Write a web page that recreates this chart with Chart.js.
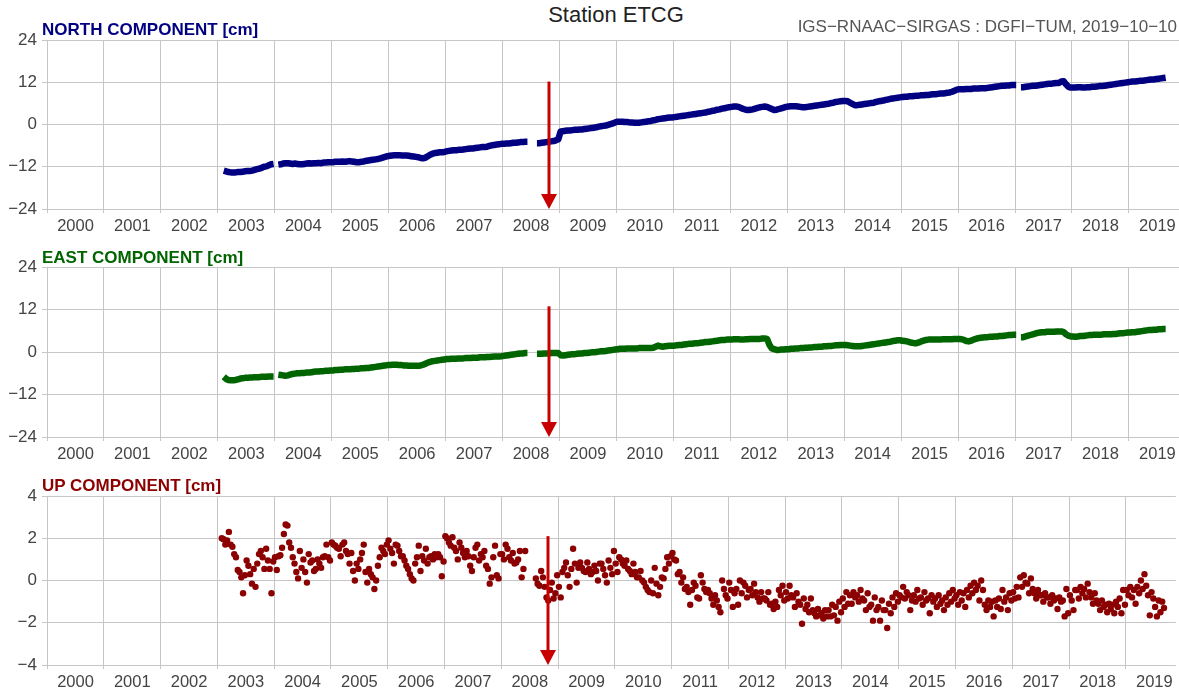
<!DOCTYPE html>
<html>
<head>
<meta charset="utf-8">
<title>Station ETCG</title>
<script src="https://cdn.jsdelivr.net/npm/chart.js@4.4.1/dist/chart.umd.min.js"></script>
<style>
  body { margin: 0; background: #fff; }
  #wrap { position: relative; width: 1179px; height: 695px; overflow: hidden;
          font-family: "Liberation Sans", Arial, Helvetica, sans-serif; }
  #wrap canvas { position: absolute; left: 0; }
  .txt { position: absolute; white-space: nowrap; z-index: 2; }
  .comp { left: 42px; font-size: 17px; font-weight: bold; line-height: 20px; }
</style>
</head>
<body>
<div id="wrap">
  <div class="txt" style="left:416px;width:400px;text-align:center;top:2px;line-height:26px;font-size:22px;color:#222;">Station ETCG</div>
  <div class="txt" style="right:2px;top:17px;line-height:20px;font-size:17px;color:#555;">IGS−RNAAC−SIRGAS : DGFI−TUM, 2019−10−10</div>
  <div class="txt comp" style="top:20px;color:#000080;">NORTH COMPONENT [cm]</div>
  <div class="txt comp" style="top:248px;color:#006400;">EAST COMPONENT [cm]</div>
  <div class="txt comp" style="top:476px;color:#8b0000;">UP COMPONENT [cm]</div>
  <canvas id="north" width="1179" height="209" style="top:30px"></canvas>
  <canvas id="east" width="1179" height="210" style="top:257px"></canvas>
  <canvas id="up" width="1179" height="209" style="top:486px"></canvas>
</div>
<script>
// years with weekly solutions, one row per year in the arrays below
var dataYears = [2003, 2004, 2005, 2006, 2007, 2008, 2009, 2010, 2011,
                 2012, 2013, 2014, 2015, 2016, 2017, 2018, 2019];
var yearTicks = [2000, 2001, 2002, 2003, 2004, 2005, 2006, 2007, 2008, 2009,
                 2010, 2011, 2012, 2013, 2014, 2015, 2016, 2017, 2018, 2019];

// north [cm], 24 values per year (null = no solution)
var northCm = [
  [null, null, -13.1, -13.3, -13.5, -13.6, -13.6, -13.6, -13.5, -13.5, -13.4, -13.3, -13.2, -13.2, -13.1, -12.9, -12.7, -12.5, -12.3, -12.0, -11.9, -11.6, -11.3, -11.2],
  [null, -11.4, -11.3, -11.1, -11.0, -11.0, -11.1, -11.2, -11.1, -11.2, -11.3, -11.3, -11.2, -11.1, -11.0, -11.1, -11.0, -11.0, -10.9, -11.0, -10.8, -10.8, -10.7, -10.7],
  [-10.7, -10.6, -10.6, -10.6, -10.5, -10.6, -10.5, -10.4, -10.5, -10.6, -10.7, -10.7, -10.6, -10.5, -10.3, -10.2, -10.1, -10.0, -9.9, -9.8, -9.6, -9.4, -9.2, -9.0],
  [-8.9, -8.8, -8.7, -8.7, -8.7, -8.8, -8.8, -8.8, -8.9, -9.0, -9.1, -9.2, -9.3, -9.5, -9.6, -9.4, -9.0, -8.6, -8.3, -8.1, -8.0, -7.9, -7.9, -7.8],
  [-7.6, -7.5, -7.4, -7.3, -7.3, -7.2, -7.2, -7.1, -7.0, -6.9, -6.8, -6.8, -6.7, -6.6, -6.5, -6.4, -6.4, -6.3, -6.1, -5.9, -5.8, -5.7, -5.6, -5.5],
  [-5.5, -5.4, -5.4, -5.3, -5.2, -5.2, -5.1, -5.0, -5.0, -4.9, -4.9, null, null, null, -5.3, -5.3, -5.2, -5.1, -5.0, -4.9, -4.8, -4.7, -4.5, -4.2],
  [-2.0, -1.9, -1.8, -1.7, -1.7, -1.6, -1.5, -1.5, -1.4, -1.4, -1.3, -1.2, -1.1, -1.0, -0.9, -0.8, -0.6, -0.5, -0.4, -0.3, -0.1, 0.1, 0.3, 0.6],
  [0.8, 0.8, 0.8, 0.7, 0.7, 0.6, 0.6, 0.5, 0.5, 0.5, 0.6, 0.7, 0.8, 0.9, 1.0, 1.2, 1.3, 1.5, 1.6, 1.7, 1.8, 1.9, 2.0, 2.0],
  [2.1, 2.2, 2.3, 2.4, 2.5, 2.6, 2.7, 2.8, 2.9, 3.0, 3.1, 3.2, 3.3, 3.4, 3.6, 3.7, 3.9, 4.0, 4.2, 4.3, 4.5, 4.6, 4.8, 4.9],
  [5.0, 5.1, 5.1, 5.0, 4.7, 4.4, 4.2, 4.1, 4.2, 4.3, 4.5, 4.7, 4.9, 5.0, 5.1, 5.0, 4.7, 4.4, 4.1, 4.2, 4.4, 4.6, 4.8, 5.0],
  [5.1, 5.2, 5.2, 5.2, 5.1, 5.0, 4.9, 4.9, 5.0, 5.1, 5.2, 5.3, 5.4, 5.5, 5.6, 5.7, 5.8, 5.9, 6.1, 6.2, 6.4, 6.5, 6.6, 6.7],
  [6.7, 6.6, 6.2, 5.8, 5.5, 5.5, 5.6, 5.7, 5.8, 5.9, 6.0, 6.1, 6.2, 6.4, 6.6, 6.7, 6.8, 7.0, 7.1, 7.3, 7.4, 7.5, 7.6, 7.7],
  [7.8, 7.9, 7.9, 8.0, 8.0, 8.1, 8.2, 8.2, 8.3, 8.3, 8.4, 8.4, 8.5, 8.6, 8.6, 8.7, 8.8, 8.8, 8.9, 9.0, 9.1, 9.3, 9.6, 9.9],
  [10.0, 10.0, 10.0, 10.1, 10.1, 10.1, 10.2, 10.2, 10.2, 10.3, 10.3, 10.3, 10.4, 10.5, 10.6, 10.7, 10.8, 10.9, 11.0, 11.0, 11.1, 11.1, 11.2, 11.2],
  [11.2, null, 10.6, 10.6, 10.7, 10.8, 10.9, 11.0, 11.0, 11.1, 11.2, 11.3, 11.4, 11.5, 11.6, 11.6, 11.7, 11.8, 11.8, 12.2, 12.3, 11.4, 10.7, 10.5],
  [10.5, 10.5, 10.6, 10.6, 10.5, 10.5, 10.6, 10.6, 10.7, 10.7, 10.8, 10.9, 10.9, 11.0, 11.1, 11.2, 11.3, 11.4, 11.5, 11.6, 11.7, 11.8, 11.9, 12.0],
  [12.1, 12.2, 12.2, 12.3, 12.4, 12.4, 12.5, 12.6, 12.7, 12.8, 12.8, 12.9, 13.0, 13.1, 13.2, 13.3, null, null, null, null, null, null, null, null]
];

// east [cm], 24 values per year
var eastCm = [
  [null, null, -7.0, -7.6, -7.9, -8.0, -8.0, -7.9, -7.7, -7.5, -7.4, -7.3, -7.3, -7.2, -7.2, -7.1, -7.1, -7.1, -7.0, -7.0, -7.0, -6.9, -6.9, -6.9],
  [null, -6.4, -6.5, -6.6, -6.7, -6.6, -6.4, -6.2, -6.1, -6.0, -6.0, -5.9, -5.9, -5.8, -5.8, -5.7, -5.6, -5.5, -5.5, -5.4, -5.4, -5.3, -5.3, -5.2],
  [-5.2, -5.1, -5.1, -5.0, -5.0, -4.9, -4.9, -4.9, -4.8, -4.8, -4.7, -4.7, -4.6, -4.6, -4.5, -4.5, -4.4, -4.3, -4.2, -4.1, -4.0, -3.9, -3.8, -3.7],
  [-3.7, -3.6, -3.6, -3.6, -3.7, -3.7, -3.8, -3.8, -3.9, -3.9, -3.9, -3.9, -3.9, -3.8, -3.6, -3.3, -3.0, -2.8, -2.6, -2.5, -2.4, -2.3, -2.2, -2.1],
  [-2.0, -2.0, -1.9, -1.9, -1.9, -1.8, -1.8, -1.8, -1.7, -1.7, -1.7, -1.6, -1.6, -1.6, -1.5, -1.5, -1.5, -1.4, -1.4, -1.35, -1.3, -1.3, -1.25, -1.2],
  [-1.1, -1.0, -0.9, -0.8, -0.7, -0.6, -0.5, -0.4, -0.4, -0.3, -0.3, null, null, null, -0.5, -0.5, -0.5, -0.4, -0.4, -0.4, -0.3, -0.3, -0.3, -0.3],
  [-0.9, -1.0, -0.9, -0.8, -0.7, -0.6, -0.6, -0.5, -0.4, -0.4, -0.3, -0.3, -0.2, -0.1, -0.1, 0.0, 0.1, 0.2, 0.2, 0.3, 0.4, 0.5, 0.6, 0.7],
  [0.8, 0.9, 0.9, 0.9, 1.0, 1.0, 1.0, 1.0, 1.0, 1.1, 1.1, 1.1, 1.1, 1.1, 1.1, 1.2, 1.5, 1.8, 1.6, 1.5, 1.6, 1.7, 1.8, 1.8],
  [1.8, 1.9, 2.0, 2.0, 2.1, 2.2, 2.3, 2.3, 2.4, 2.5, 2.5, 2.6, 2.7, 2.8, 2.8, 2.9, 3.0, 3.1, 3.2, 3.3, 3.4, 3.4, 3.5, 3.5],
  [3.5, 3.6, 3.6, 3.6, 3.5, 3.5, 3.6, 3.6, 3.7, 3.7, 3.7, 3.7, 3.7, 3.8, 3.8, 3.7, 2.0, 1.0, 0.8, 0.6, 0.6, 0.7, 0.7, 0.8],
  [0.8, 0.9, 0.9, 1.0, 1.0, 1.1, 1.1, 1.2, 1.2, 1.3, 1.3, 1.4, 1.4, 1.5, 1.5, 1.6, 1.6, 1.7, 1.7, 1.8, 1.9, 1.9, 2.0, 2.0],
  [2.0, 1.9, 1.8, 1.7, 1.6, 1.6, 1.6, 1.7, 1.8, 1.9, 2.0, 2.1, 2.2, 2.3, 2.4, 2.5, 2.6, 2.7, 2.8, 2.9, 3.1, 3.2, 3.3, 3.3],
  [3.2, 3.1, 3.0, 2.8, 2.6, 2.5, 2.5, 2.7, 3.0, 3.2, 3.4, 3.5, 3.5, 3.5, 3.5, 3.5, 3.5, 3.6, 3.6, 3.6, 3.6, 3.6, 3.7, 3.7],
  [3.7, 3.6, 3.4, 3.1, 3.0, 3.2, 3.5, 3.7, 3.9, 4.0, 4.1, 4.2, 4.2, 4.3, 4.3, 4.4, 4.4, 4.5, 4.5, 4.6, 4.7, 4.8, 4.8, 4.9],
  [4.9, null, 4.2, 4.2, 4.4, 4.6, 4.8, 5.0, 5.2, 5.4, 5.5, 5.6, 5.6, 5.7, 5.7, 5.7, 5.7, 5.8, 5.8, 5.8, 5.6, 5.0, 4.6, 4.4],
  [4.4, 4.3, 4.4, 4.5, 4.5, 4.6, 4.7, 4.8, 4.8, 4.9, 4.9, 4.9, 4.9, 5.0, 5.0, 5.0, 5.0, 5.1, 5.1, 5.2, 5.3, 5.3, 5.4, 5.5],
  [5.5, 5.6, 5.6, 5.7, 5.8, 5.9, 6.0, 6.1, 6.2, 6.2, 6.3, 6.3, 6.4, 6.4, 6.5, 6.5, null, null, null, null, null, null, null, null]
];

// up [cm], 32 values per year
var upCm = [
  [null, null, 2.0, 1.95, 1.7, 1.9, 2.3, 1.7, 1.6, 1.25, 1.1, 0.5, 0.4, 0.15, -0.6, 0.25, 0.95, 0.7, 0.3, -0.15, 0.55, -0.3, 0.8, 1.25, 1.4, 1.1, 0.55, 1.5, 0.95, 0.55, -0.6, 0.9],
  [1.1, 0.5, 1.15, 1.2, 1.55, 2.2, 2.65, 2.6, 1.8, 1.55, 1.1, 0.8, 0.4, 0.1, 1.4, 0.6, 1.0, 0.4, -0.1, 1.25, 0.85, 0.95, 0.45, 0.55, 1.0, 0.8, 0.6, 1.1, 1.15, 1.7, 1.1, 0.95],
  [1.8, 1.7, 1.65, 1.55, 1.5, 1.15, 1.7, 1.8, 1.4, 1.25, 0.8, 1.3, 0.45, 0.0, 0.8, 0.55, 1.0, 1.3, 1.7, 0.4, -0.1, 0.55, 0.3, 0.15, -0.4, 0.0, 0.7, 1.1, 1.55, 1.4, 1.25, 1.7],
  [1.9, 1.5, 1.3, 0.8, 1.7, 1.65, 1.4, 1.15, 1.15, 0.95, 0.7, 0.55, 0.3, 0.1, 0.0, 0.8, 1.1, 1.65, 0.45, 1.15, 0.95, 1.5, 0.8, 1.1, 1.15, 1.0, 1.25, 1.1, 1.25, 1.1, 0.2, 0.9],
  [2.1, 2.0, 1.8, 1.65, 2.05, 1.55, 1.4, 1.0, 1.8, 1.55, 1.3, 1.1, 1.4, 1.15, 0.7, 0.45, 1.1, 1.55, 1.7, 0.95, 1.25, 1.1, 1.4, 0.7, 0.55, -0.15, 0.15, 1.1, 1.65, 0.25, 0.1, 1.25],
  [1.25, 1.0, 1.7, 1.5, 1.1, 0.95, 1.3, 0.8, 0.85, 1.0, 1.4, 0.15, 0.55, 1.4, null, null, null, null, null, 0.1, -0.15, -0.25, 0.45, 0.15, -0.3, -0.8, -0.95, -0.45, -0.1, -0.85, -0.6, 0.25],
  [-0.3, -0.8, 0.4, 0.6, 0.85, 0.25, -0.3, 0.55, 1.5, 0.8, -0.1, 0.6, 0.85, 0.6, 0.45, 0.4, 0.85, 0.55, 0.3, 0.4, 0.7, 0.45, 0.0, 0.8, 0.8, 0.55, 0.25, -0.1, 0.95, 0.6, 0.3, 1.4],
  [0.8, 0.4, 1.1, 1.0, 0.8, 0.7, 0.95, 0.55, 0.45, 0.3, 0.8, 0.4, 0.15, 0.15, 0.45, 0.0, -0.1, -0.3, -0.45, -0.55, 0.0, -0.6, 0.6, -0.15, -0.7, -0.3, 0.15, 0.1, 0.55, 1.1, 0.8, 1.15],
  [1.3, 1.0, 0.95, 0.3, 0.4, -0.1, 0.15, -0.4, -0.3, -0.55, -1.15, -0.45, -0.1, -0.25, -0.8, -0.85, 0.25, -0.1, -0.4, -0.55, -0.45, -0.6, -0.85, -1.15, -0.7, -0.95, -1.25, -1.5, 0.0, -0.4, -0.7, -0.85],
  [-0.1, -0.45, -1.25, -0.6, -0.4, -1.15, 0.0, -0.6, -0.1, -0.25, -0.8, -0.45, -0.4, -0.7, -0.15, -0.55, -0.8, -1.0, -0.55, -0.85, -0.85, -0.95, -0.55, -1.15, -1.1, -1.35, -1.0, -1.25, -0.45, -0.7, -0.25, -0.95],
  [-0.55, -0.85, -0.25, -0.7, -0.8, -1.25, -0.6, -1.0, -1.15, -2.05, -0.85, -1.35, -1.15, -1.5, -0.85, -1.4, -1.55, -1.7, -1.35, -1.65, -1.55, -1.8, -1.4, -1.7, -1.4, -1.7, -1.15, -1.65, -1.25, -1.9, -1.0, -1.5],
  [-0.85, -1.25, -0.55, -1.1, -0.7, -1.1, -0.55, -0.8, -0.7, -1.0, -0.45, -0.85, -0.95, -1.4, -0.6, -1.25, -1.15, -1.9, -0.8, -1.4, -1.25, -1.9, -0.95, -1.4, -1.4, -2.25, -1.1, -1.55, -0.8, -1.25, -0.6, -1.0],
  [-0.7, -0.8, -0.3, -0.85, -0.55, -0.7, -1.4, -0.95, -0.7, -1.0, -0.45, -0.85, -0.8, -1.15, -0.55, -0.95, -0.85, -1.55, -0.7, -1.0, -0.85, -1.25, -0.7, -1.1, -0.95, -1.4, -0.8, -1.15, -0.6, -1.0, -0.45, -0.85],
  [-0.7, -1.15, -0.55, -0.95, -0.6, -1.25, -0.45, -0.8, -0.25, -0.6, -0.1, -0.45, -0.25, -0.95, 0.0, -0.45, -1.15, -1.4, -0.95, -1.25, -1.0, -1.7, -0.95, -1.25, -0.85, -1.35, -0.45, -1.0, -0.8, -1.4, -0.6, -0.95],
  [-0.55, -0.85, -0.3, -0.8, 0.15, -0.3, 0.25, -0.1, -0.15, -0.6, 0.1, -0.4, -0.6, -0.85, -0.45, -0.7, -0.7, -1.0, -0.6, -0.8, -0.8, -1.1, -0.7, -0.95, -0.85, -1.35, -0.8, -1.0, -0.95, -1.7, -0.4, -1.55],
  [-0.7, -0.95, -1.4, -0.45, -0.45, -0.85, -0.3, -0.6, -0.4, -0.8, -0.15, -0.55, -0.8, -1.1, -0.6, -0.95, -1.1, -1.4, -0.95, -1.25, -1.15, -1.5, -1.1, -1.35, -1.15, -1.55, -1.0, -1.25, -0.85, -1.55, -0.45, -1.15],
  [-0.45, -0.7, -0.3, -0.8, -0.45, -1.1, -0.3, -0.6, 0.0, -0.4, 0.3, -0.25, -0.7, -1.65, -0.55, -0.85, -1.25, -1.7, -0.95, -1.5, -1.0, -1.3, null, null, null, null, null, null, null, null, null, null]
];

// antenna change marker
var arrowYear = 2008.82;
var arrowTop = [12.2, 12.9, 2.1];

var fontFamily = '"Liberation Sans", Arial, Helvetica, sans-serif';
var gridColor = '#c6c6c6';

function toPoints(rows) {
  var pts = [];
  rows.forEach(function (row, k) {
    var n = row.length;
    row.forEach(function (v, i) {
      pts.push({ x: dataYears[k] + (i + 0.5) / n, y: v });
    });
  });
  return pts;
}

var arrowPlugin = {
  id: 'arrow',
  afterDatasetsDraw: function (chart, args, opts) {
    var xs = chart.scales.x, ys = chart.scales.y, ctx = chart.ctx;
    var x = Math.round(xs.getPixelForValue(arrowYear));
    var top = ys.getPixelForValue(opts.top);
    var tip = ys.getPixelForValue(ys.min);
    ctx.save();
    ctx.strokeStyle = '#c80000';
    ctx.fillStyle = '#c80000';
    ctx.lineWidth = 3;
    ctx.beginPath();
    ctx.moveTo(x, top);
    ctx.lineTo(x, tip - 12);
    ctx.stroke();
    ctx.beginPath();
    ctx.moveTo(x - 8, tip - 15);
    ctx.lineTo(x + 8, tip - 15);
    ctx.lineTo(x, tip);
    ctx.closePath();
    ctx.fill();
    ctx.restore();
  }
};

function makePanel(id, rows, color, yMin, yMax, yStep, asLine, tipTop) {
  return new Chart(document.getElementById(id), {
    type: 'scatter',
    data: {
      datasets: [{
        data: toPoints(rows),
        showLine: asLine,
        spanGaps: false,
        borderColor: color,
        backgroundColor: color,
        borderWidth: asLine ? 6.5 : 0,
        borderCapStyle: 'butt',
        borderJoinStyle: 'round',
        pointRadius: asLine ? 0 : 3.2,
        pointBorderWidth: 0,
        pointHoverRadius: 0
      }]
    },
    options: {
      responsive: false,
      animation: false,
      devicePixelRatio: 1,
      events: [],
      layout: { padding: { top: 10, left: 0, right: 0, bottom: 0 } },
      plugins: {
        legend: { display: false },
        tooltip: { enabled: false },
        arrow: { top: tipTop }
      },
      scales: {
        x: {
          type: 'linear',
          min: 2000,
          max: 2019.88,
          afterBuildTicks: function (s) {
            s.ticks = yearTicks.map(function (v) { return { value: v }; });
          },
          afterFit: function (s) {
            s.height = 30;
            s.paddingLeft = 0;
            s.paddingRight = 0;
          },
          grid: { color: gridColor, tickLength: 4 },
          border: { display: false },
          ticks: {
            autoSkip: false,
            maxRotation: 0,
            padding: 4,
            labelOffset: 28.5,
            color: '#444',
            font: { family: fontFamily, size: 16.5 },
            callback: function (v) { return String(v); }
          }
        },
        y: {
          min: yMin,
          max: yMax,
          afterFit: function (s) {
            s.width = 47;
            s.paddingTop = 0;
            s.paddingBottom = 0;
          },
          grid: { color: gridColor, tickLength: 5 },
          border: { display: false },
          ticks: {
            stepSize: yStep,
            padding: 5,
            color: '#444',
            font: { family: fontFamily, size: 17 },
            callback: function (v) { return String(v).replace('-', '\u2212'); }
          }
        }
      }
    },
    plugins: [arrowPlugin]
  });
}

makePanel('north', northCm, '#000080', -24, 24, 12, true, arrowTop[0]);
makePanel('east', eastCm, '#006400', -24, 24, 12, true, arrowTop[1]);
makePanel('up', upCm, '#8b0000', -4, 4, 2, false, arrowTop[2]);
</script>
</body>
</html>
